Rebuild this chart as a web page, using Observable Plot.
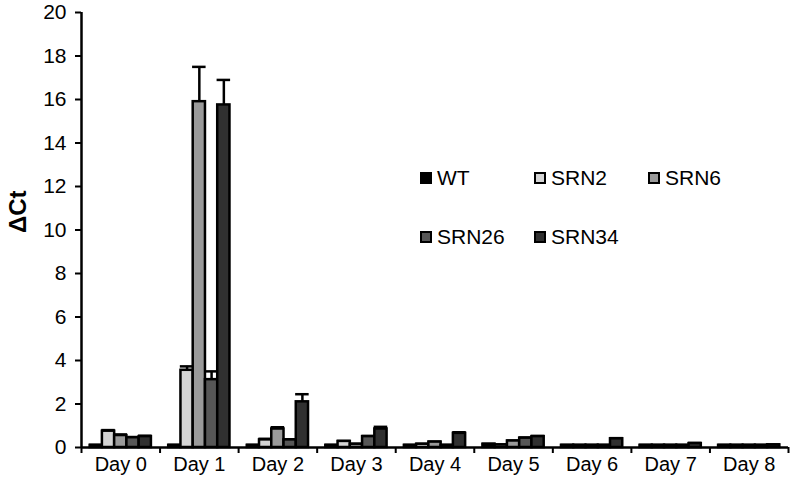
<!DOCTYPE html>
<html>
<head>
<meta charset="utf-8">
<script src="https://cdn.jsdelivr.net/npm/d3@7"></script>
<script src="https://cdn.jsdelivr.net/npm/@observablehq/plot@0.6"></script>
<style>
  html, body { margin: 0; padding: 0; background: #fff; }
  #wrap { position: relative; width: 796px; height: 487px; font-family: "Liberation Sans", Arial, sans-serif; }
  #legend { position: absolute; left: 420px; top: 165px; display: grid; grid-template-columns: 114px 114px 114px; grid-auto-rows: 59px; }
  .item { display: flex; align-items: center; height: 25px; font-size: 21px; color: #000; }
  .sw { width: 12px; height: 12px; box-sizing: border-box; border: 2px solid #000; margin-right: 5px; }
</style>
</head>
<body>
<div id="wrap"><div id="legend"></div></div>
<script>
const days = ["Day 0", "Day 1", "Day 2", "Day 3", "Day 4", "Day 5", "Day 6", "Day 7", "Day 8"];
const series = ["WT", "SRN2", "SRN6", "SRN26", "SRN34"];
const colors = ["#000000", "#d4d4d4", "#9a9a9a", "#575757", "#303030"];

// mean ΔCt per day
const WT    = [0.10, 0.10, 0.10, 0.10, 0.10, 0.15, 0.10, 0.10, 0.10];
const SRN2  = [0.75, 3.55, 0.35, 0.28, 0.15, 0.12, 0.10, 0.10, 0.10];
const SRN6  = [0.55, 15.9, 0.85, 0.15, 0.25, 0.30, 0.10, 0.10, 0.10];
const SRN26 = [0.45, 3.12, 0.35, 0.50, 0.10, 0.43, 0.10, 0.10, 0.10];
const SRN34 = [0.50, 15.75, 2.10, 0.85, 0.65, 0.50, 0.40, 0.18, 0.12];

// upper error (SD)
const WT_err    = [0.02, 0.02, 0.02, 0.02, 0.02, 0.02, 0.02, 0.02, 0.02];
const SRN2_err  = [0.05, 0.18, 0.05, 0.02, 0.02, 0.02, 0.02, 0.02, 0.02];
const SRN6_err  = [0.05, 1.60, 0.08, 0.02, 0.02, 0.02, 0.02, 0.02, 0.02];
const SRN26_err = [0.03, 0.38, 0.03, 0.03, 0.02, 0.03, 0.02, 0.02, 0.02];
const SRN34_err = [0.04, 1.15, 0.35, 0.10, 0.05, 0.03, 0.03, 0.03, 0.02];

const values = [WT, SRN2, SRN6, SRN26, SRN34];
const errors = [WT_err, SRN2_err, SRN6_err, SRN26_err, SRN34_err];

// layout of bars within each day slot (x in day units)
const groupPad = 0.11;
const barW = (1 - 2 * groupPad) / series.length;

const table = [];
days.forEach((day, d) => {
  series.forEach((s, i) => {
    const x1 = d + groupPad + i * barW;
    const v = values[i][d], e = errors[i][d];
    table.push({day, series: s, value: v, err: e, top: v + e, x1, x2: x1 + barW, xm: x1 + barW / 2, c1: x1 - 0.008, c2: x1 + barW + 0.008});
  });
});

const chart = Plot.plot({
  width: 796,
  height: 487,
  marginLeft: 81,
  marginRight: 8,
  marginTop: 12,
  marginBottom: 40,
  style: {fontFamily: "'Liberation Sans', Arial, sans-serif", color: "#000", background: "#fff"},
  x: {domain: [0, days.length], axis: null},
  y: {domain: [0, 20], axis: null},
  color: {domain: series, range: colors},
  marks: [
    Plot.ruleX(table, {x: "xm", y1: "value", y2: "top", stroke: "#000", strokeWidth: 2.5}),
    Plot.ruleY(table, {y: "top", x1: "c1", x2: "c2", stroke: "#000", strokeWidth: 2.5}),
    Plot.rectY(table, {x1: "x1", x2: "x2", y1: 0, y2: "value", fill: "series", stroke: "#000", strokeWidth: 2.5}),
    Plot.axisY({ticks: d3.range(0, 21, 2), tickSize: 6, tickPadding: 9, fontSize: 21, strokeWidth: 2, label: null, tickFormat: d => String(d)}),
    Plot.axisX({ticks: d3.range(0, days.length + 1), tickSize: 6, strokeWidth: 2, label: null, tickFormat: () => ""}),
    Plot.axisX({ticks: days.map((_, i) => i + 0.5), tickSize: 0, tickPadding: 9, fontSize: 20, label: null, tickFormat: t => days[Math.floor(t)]}),
    Plot.ruleX([0], {stroke: "#000", strokeWidth: 2.5}),
    Plot.ruleY([0], {stroke: "#000", strokeWidth: 2.5}),
    Plot.text(["ΔCt"], {frameAnchor: "left", rotate: -90, dx: -63, dy: 3, fontSize: 24, fontWeight: "bold", fill: "#000"})
  ]
});

const wrap = document.getElementById("wrap");
wrap.insertBefore(chart, wrap.firstChild);

const legend = document.getElementById("legend");
series.forEach((s, i) => {
  const item = document.createElement("div");
  item.className = "item";
  const sw = document.createElement("span");
  sw.className = "sw";
  sw.style.background = colors[i];
  item.appendChild(sw);
  item.appendChild(document.createTextNode(s));
  legend.appendChild(item);
});
</script>
</body>
</html>
